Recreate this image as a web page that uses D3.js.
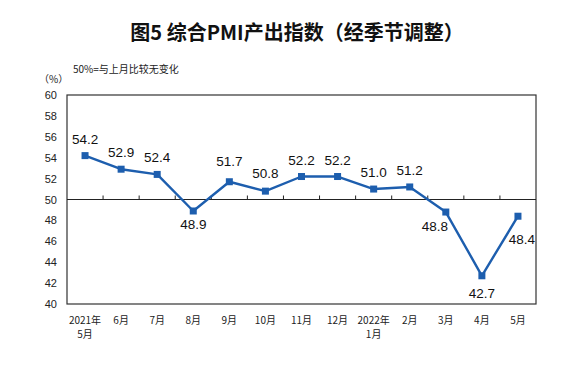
<!DOCTYPE html>
<html>
<head>
<meta charset="utf-8">
<script src="https://cdn.jsdelivr.net/npm/d3@7"></script>
<style>
body { margin: 0; background: #fff; }
</style>
</head>
<body>
<div id="chart"></div>
<script>
const months = ["2021年\n5月", "6月", "7月", "8月", "9月", "10月", "11月", "12月", "2022年\n1月", "2月", "3月", "4月", "5月"]
const pmi = [54.2, 52.9, 52.4, 48.9, 51.7, 50.8, 52.2, 52.2, 51.0, 51.2, 48.8, 42.7, 48.4]
const yTicks = [40, 42, 44, 46, 48, 50, 52, 54, 56, 58, 60]
// label offsets (dx, dy) relative to each point
const labelPos = [[0,-17],[0,-17],[0,-17],[0,13],[0,-21],[0,-18],[0,-17],[0,-17],[0,-17],[0,-17],[-11,14],[0,17],[4,23]]

const width = 583, height = 372
const plotL = 67, plotR = 536, plotT = 95, plotB = 304
const lineColor = "#1d5eae"
const cjk = "'Noto Sans CJK SC', 'Liberation Sans', sans-serif"
const num = "'Liberation Sans', Arial, sans-serif"

const svg = d3.select("#chart").append("svg")
	.attr("width", width)
	.attr("height", height)

const x = d3.scaleBand().domain(d3.range(months.length)).range([plotL, plotR])
const y = d3.scaleLinear().domain([40, 60]).range([plotB, plotT])

// title
svg.append("text")
	.attr("x", 297)
	.attr("y", 40)
	.attr("text-anchor", "middle")
	.attr("font-family", cjk)
	.attr("font-weight", "bold")
	.attr("font-size", 20)
	.attr("fill", "#111")
	.text("图5 综合PMI产出指数（经季节调整）")

svg.append("text")
	.attr("x", 73)
	.attr("y", 73)
	.attr("font-family", cjk)
	.attr("font-size", 10)
	.attr("fill", "#222")
	.text("50%=与上月比较无变化")

svg.append("text")
	.attr("x", 39)
	.attr("y", 83)
	.attr("font-family", cjk)
	.attr("font-size", 10)
	.attr("fill", "#222")
	.text("（%）")

// frame
svg.append("rect")
	.attr("x", plotL)
	.attr("y", plotT)
	.attr("width", plotR - plotL)
	.attr("height", plotB - plotT)
	.attr("fill", "none")
	.attr("stroke", "#333")
	.attr("stroke-width", 1.2)

// y axis labels
svg.selectAll(".ylab").data(yTicks).enter().append("text")
	.attr("class", "ylab")
	.attr("x", 57)
	.attr("y", d => y(d) + 4)
	.attr("text-anchor", "end")
	.attr("font-family", num)
	.attr("font-size", 11)
	.attr("fill", "#222")
	.text(d => d)

// 50 line with ticks
svg.append("line")
	.attr("x1", plotL).attr("x2", plotR)
	.attr("y1", y(50)).attr("y2", y(50))
	.attr("stroke", "#222")
	.attr("stroke-width", 1.2)

svg.selectAll(".tick50").data(d3.range(1, months.length)).enter().append("line")
	.attr("class", "tick50")
	.attr("x1", d => x(d)).attr("x2", d => x(d))
	.attr("y1", y(50)).attr("y2", y(50) - 4)
	.attr("stroke", "#222")
	.attr("stroke-width", 1)

// x labels
const xl = svg.selectAll(".xlab").data(months).enter().append("text")
	.attr("class", "xlab")
	.attr("text-anchor", "middle")
	.attr("font-family", cjk)
	.attr("font-size", 10)
	.attr("fill", "#222")
xl.each(function(d, i){
	const parts = d.split("\n")
	d3.select(this).selectAll("tspan").data(parts).enter().append("tspan")
		.attr("x", x(i) + x.bandwidth()/2)
		.attr("y", (p, j) => 324 + j*14)
		.text(p => p)
})

// line
const cx = (d, i) => x(i) + x.bandwidth()/2
svg.append("path")
	.datum(pmi)
	.attr("fill", "none")
	.attr("stroke", lineColor)
	.attr("stroke-width", 2.4)
	.attr("stroke-linejoin", "round")
	.attr("d", d3.line().x(cx).y(d => y(d)))

svg.selectAll(".mark").data(pmi).enter().append("rect")
	.attr("class", "mark")
	.attr("x", (d, i) => cx(d, i) - 3.5)
	.attr("y", d => y(d) - 3.5)
	.attr("width", 7)
	.attr("height", 7)
	.attr("fill", lineColor)

svg.selectAll(".vlab").data(pmi).enter().append("text")
	.attr("class", "vlab")
	.attr("x", (d, i) => cx(d, i) + labelPos[i][0])
	.attr("y", (d, i) => y(d) + labelPos[i][1] + 5)
	.attr("text-anchor", "middle")
	.attr("font-family", num)
	.attr("font-size", 13.5)
	.attr("fill", "#111")
	.text(d => d.toFixed(1))
</script>
</body>
</html>
